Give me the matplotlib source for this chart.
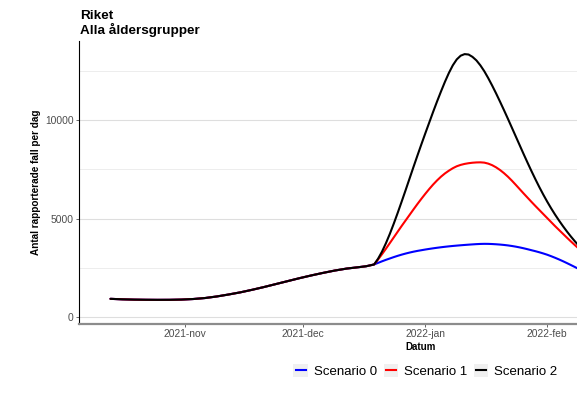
import matplotlib
matplotlib.use("Agg")
import matplotlib.pyplot as plt
from matplotlib.patches import Rectangle
from matplotlib.lines import Line2D
from matplotlib.legend_handler import HandlerBase
import pandas as pd

plt.rcParams['font.family'] = ['Liberation Sans', 'DejaVu Sans']

# ---- data ----
common_dates = ["2021-10-13", "2021-10-16", "2021-10-19", "2021-10-22", "2021-10-25",
                "2021-10-28", "2021-10-31", "2021-11-03", "2021-11-06", "2021-11-09",
                "2021-11-12", "2021-11-15", "2021-11-18", "2021-11-21", "2021-11-24",
                "2021-11-27", "2021-11-30", "2021-12-03", "2021-12-06", "2021-12-09",
                "2021-12-12", "2021-12-15", "2021-12-17"]
common_values = [910, 885, 870, 862, 858, 860, 872, 900, 950, 1030, 1130, 1240, 1370,
                 1510, 1660, 1810, 1960, 2100, 2230, 2350, 2450, 2520, 2570]

# daily values 2021-12-19 .. 2022-02-09
scen_start, scen_end = "2021-12-19", "2022-02-09"
scenario0 = [2660, 2740, 2820, 2895, 2965, 3035, 3100, 3160, 3215, 3265, 3310, 3350, 3385,
             3420, 3452, 3482, 3510, 3536, 3560, 3582, 3602, 3620, 3637, 3653, 3668, 3682,
             3695, 3705, 3710, 3708, 3700, 3688, 3673, 3654, 3630, 3601, 3567, 3528, 3484,
             3436, 3385, 3335, 3280, 3220,
             3155, 3080, 3000, 2915, 2825, 2730, 2632, 2532, 2430]
scenario1 = [2660, 2910, 3180, 3460, 3750, 4040, 4330, 4620, 4900, 5180, 5460, 5735, 6000,
             6255, 6500, 6730, 6940, 7130, 7295, 7435, 7560, 7660, 7730, 7780, 7815, 7840,
             7855, 7860, 7845, 7795, 7715, 7605, 7470, 7310, 7130, 6930, 6715, 6495, 6275,
             6060, 5845, 5635, 5430, 5225,
             5020, 4815, 4610, 4415, 4220, 4025, 3835, 3650, 3470]
scenario2 = [2660, 2950, 3310, 3740, 4220, 4740, 5290, 5860, 6440, 7030, 7620, 8200, 8770,
             9330, 9880, 10430, 10960, 11470, 11960, 12410, 12800, 13100, 13290, 13370,
             13350, 13230, 13050, 12800, 12500, 12150, 11770, 11370, 10950, 10520, 10080,
             9630, 9180, 8730, 8280, 7840, 7410, 6995, 6595, 6215,
             5855, 5515, 5195, 4895, 4610, 4340, 4085, 3845, 3620]

series_names = ["Scenario 0", "Scenario 1", "Scenario 2"]
series_colors = ["#0000FF", "#FF0000", "#000000"]

month_ticks = ["2021-11-01", "2021-12-01", "2022-01-01", "2022-02-01"]
month_labels = ["2021-nov", "2021-dec", "2022-jan", "2022-feb"]
y_major = [0, 5000, 10000]
y_minor = [2500, 7500, 12500]


class KeyHandler(HandlerBase):
    """ggplot-like legend key: light grey square with a short line."""
    def create_artists(self, legend, orig_handle, xdescent, ydescent, width, height,
                       fontsize, trans):
        bg = Rectangle((-xdescent, -ydescent), width, height, facecolor='#F0F0F0',
                       edgecolor='none', transform=trans)
        m = width * 0.15
        y = -ydescent + height / 2
        ln = Line2D([-xdescent + m, -xdescent + width - m], [y, y],
                    color=orig_handle.get_color(), lw=orig_handle.get_linewidth(),
                    transform=trans)
        return [bg, ln]


# ---- figure ----
W, H = 577, 397
fig = plt.figure(figsize=(W / 100, H / 100), dpi=100)
left_px, right_px, top_px, bot_px = 79, 763, 41, 323.5
ax = fig.add_axes([left_px / W, 1 - bot_px / H, (right_px - left_px) / W, (bot_px - top_px) / H])

cd = list(pd.to_datetime(common_dates))
sd = list(pd.date_range(scen_start, scen_end, freq="D"))
lines = []
for name, vals, col in zip(series_names, [scenario0, scenario1, scenario2], series_colors):
    ln, = ax.plot(cd + sd, common_values + vals, color=col, lw=1.5,
                  solid_capstyle='round', solid_joinstyle='round', label=name)
    lines.append(ln)

ax.set_xlim(pd.Timestamp("2021-10-05"), pd.Timestamp("2022-03-27 20:00"))
ax.set_ylim(-346, 14038)

ax.set_yticks(y_major)
ax.set_yticks(y_minor, minor=True)
ax.set_xticks(pd.to_datetime(month_ticks))
ax.set_xticklabels(month_labels)
ax.grid(axis='y', which='major', color='#DEDEDE', lw=0.8)
ax.grid(axis='y', which='minor', color='#EDEDED', lw=0.7)
ax.set_axisbelow(True)
ax.tick_params(axis='y', which='minor', length=0)
ax.tick_params(axis='both', which='major', labelsize=7.4, labelcolor='#4D4D4D',
               color='#4D4D4D', length=2.5, width=0.6, pad=1.5)

for s in ['top', 'right']:
    ax.spines[s].set_visible(False)
ax.spines['left'].set_color('black')
ax.spines['left'].set_linewidth(0.8)
ax.spines['bottom'].set_color('#8C8C8C')
ax.spines['bottom'].set_linewidth(1.6)

ax.set_xlabel("Datum", fontsize=7, fontweight='bold', labelpad=2)
ax.set_ylabel("Antal rapporterade fall per dag", fontsize=7.2, fontweight='bold', labelpad=2.5)

fig.text(80 / W, 1 - 10 / H, "Riket\nAlla åldersgrupper", fontsize=9.7, fontweight='bold',
         ha='left', va='top', linespacing=1.05)

fig.legend(lines, series_names, handler_map={Line2D: KeyHandler()},
           loc='center', bbox_to_anchor=(425.5 / W, 1 - 371 / H), ncol=3, frameon=False,
           fontsize=9.5, handlelength=1.1, handleheight=1.1, handletextpad=0.45,
           columnspacing=0.5, borderaxespad=0, borderpad=0)

fig.savefig("out.png", dpi=100)
